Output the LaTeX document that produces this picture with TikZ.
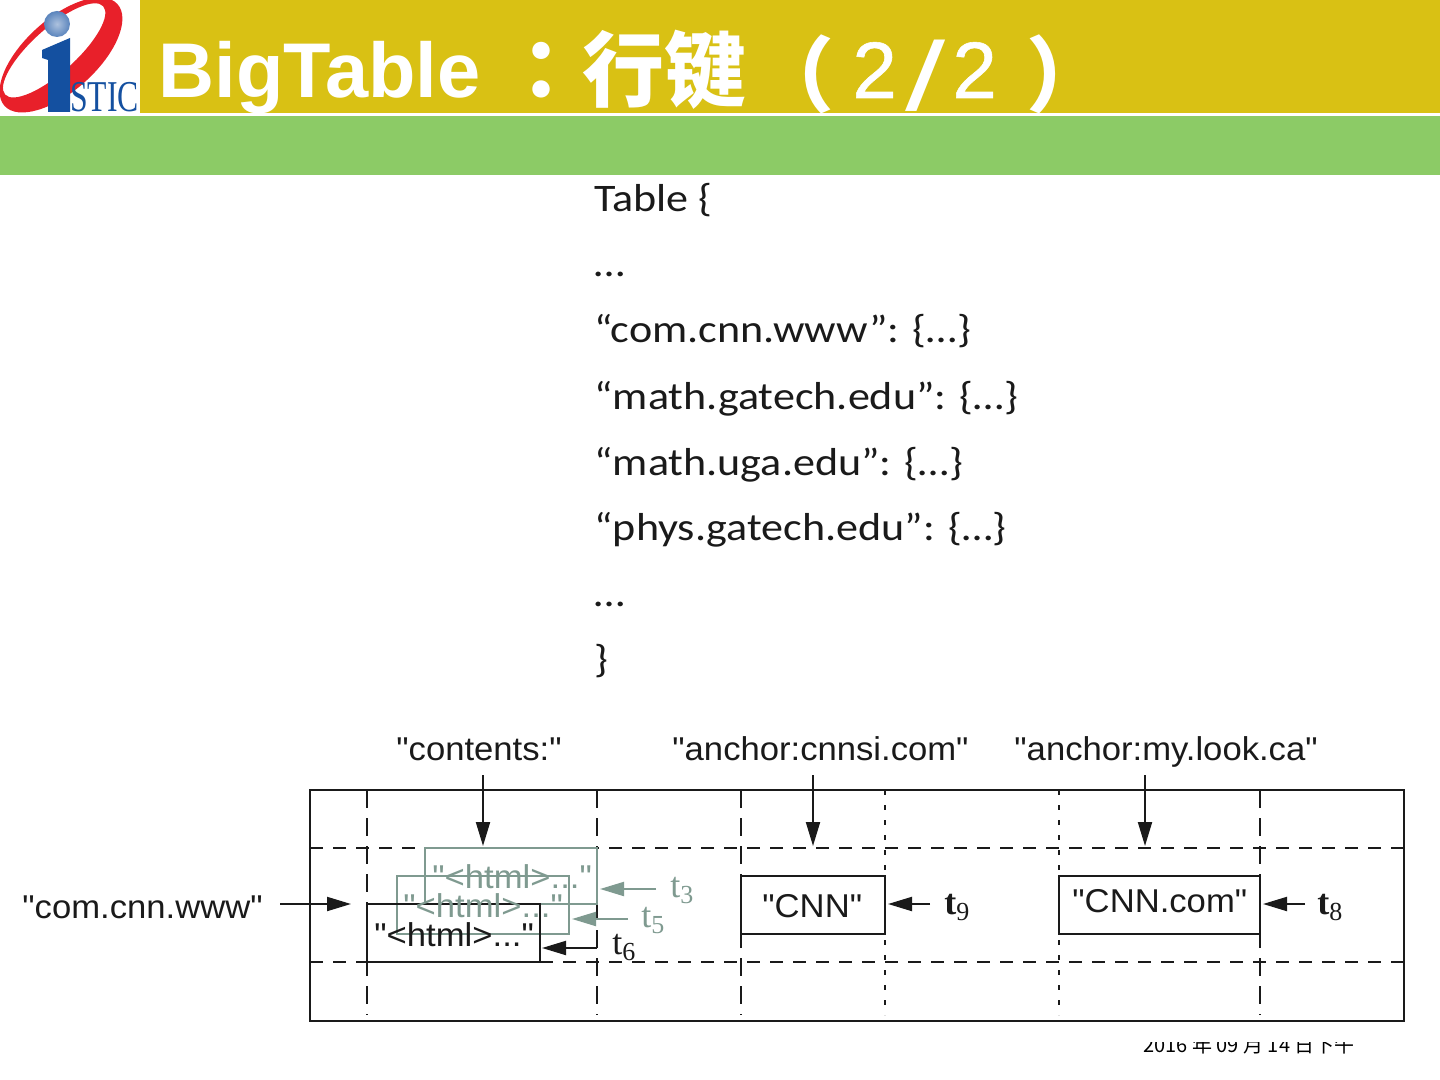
\documentclass[tikz,border=0pt]{standalone}
\usepackage{fontspec}
\setmainfont{Liberation Sans}
\newfontfamily\lblf{Liberation Sans}
\newfontfamily\lblfb[FakeBold=0.7]{Liberation Sans}
\newfontfamily\jpf{Noto Sans CJK JP}
\newfontfamily\bodyf{Carlito}
\newfontfamily\timesf{Liberation Serif}
\usetikzlibrary{arrows.meta}
\definecolor{gold}{HTML}{D9C114}
\definecolor{leaf}{HTML}{8CCB66}
\definecolor{sage}{HTML}{7F9A90}
\definecolor{logored}{HTML}{E8202A}
\definecolor{logoblue}{HTML}{1450A0}
\definecolor{inkd}{HTML}{1A1A1A}
\newcommand{\fixbox}[2]{\hbox to #1{#2\hss}}
\tikzset{
  x=0.5pt,y=-0.5pt,
  gridline/.style={draw=inkd,line width=1.1pt,dash pattern=on 6.5pt off 5pt},
  longdash/.style={draw=inkd,line width=1.1pt,dash pattern=on 9pt off 5pt},
  shortdash/.style={draw=inkd,line width=1.1pt,dash pattern=on 2.5pt off 5pt},
  frameline/.style={draw=inkd,line width=1.1pt},
  cellbox/.style={draw=inkd,line width=1.1pt,fill=none},
  ghostbox/.style={draw=sage,line width=0.9pt},
  bk/.style={draw=inkd,line width=1pt,-{Triangle[length=12pt,width=7pt]}},
  gk/.style={draw=sage,line width=1pt,-{Triangle[length=12pt,width=7pt]}},
  lbl/.style={anchor=base west,inner sep=0pt,xscale=1.05,font=\lblf\fontsize{16.5}{18}\selectfont,text=inkd},
  bodyline/.style={anchor=base west,inner sep=0pt,xscale=1.13,font=\bodyf\fontsize{19.5}{22}\selectfont,text=inkd},
  tim/.style={anchor=base west,inner sep=0pt,font=\timesf\fontsize{18}{20}\selectfont},
}
\newcommand{\tsub}[1]{\raisebox{-3pt}{\fontsize{13}{14}\selectfont\mdseries #1}}
\begin{document}
\begin{tikzpicture}
\useasboundingbox (0,0) rectangle (1440,1080);
\fill[white] (0,0) rectangle (1440,1080);
% bands
\fill[gold] (140,0) rectangle (1440,113);
\fill[leaf] (0,116) rectangle (1440,175);
% logo
\begin{scope}
\clip (0,0) rectangle (140,113);
\fill[logored,even odd rule,rotate around={42:(61,55)}]
  (61,55) ellipse [x radius=76,y radius=36]
  (59,47) ellipse [x radius=66,y radius=22];
\shade[inner color=logoblue!35!white,outer color=logoblue!70!white] (57,24) circle (13);
\fill[logoblue] (42,50) -- (70,38) -- (70,112) -- (48,112) -- (48,60) -- (42,58) -- cycle;
\end{scope}
\node[anchor=base west,inner sep=0pt,text=logoblue,font=\timesf\fontsize{22}{24}\selectfont,xscale=0.72] (stic) at (70,112) {STIC};
% title
\node[anchor=base west,inner sep=0pt,text=white] (title) at (158,98) {%
  \fixbox{171pt}{\fontsize{38.8}{40}\selectfont\lblf\bfseries BigTable}%
  \fixbox{126pt}{\raisebox{-1.5pt}{\fontsize{41}{44}\selectfont\jpf\bfseries ：行键}}%
  \fixbox{50pt}{\raisebox{-4pt}{\fontsize{41}{44}\selectfont\jpf\bfseries （}}%
  \fixbox{26.5pt}{\fontsize{40}{42}\selectfont\lblfb 2}%
  \fixbox{23.5pt}{\fontsize{38}{40}\selectfont\lblf\raisebox{-6.5pt}{\scalebox{1.9}[1.28]{/}}}%
  \fixbox{37pt}{\fontsize{40}{42}\selectfont\lblfb 2}%
  \raisebox{-4pt}{\fontsize{41}{44}\selectfont\jpf\bfseries ）}};
% body
\node[bodyline] (b1) at (594,212) {Table \{};
\node[bodyline] (b2) at (594,277) {…};
\node[bodyline] (b3) at (594,343) {“com.cnn.www”: \{…\}};
\node[bodyline] (b4) at (594,409) {“math.gatech.edu”: \{…\}};
\node[bodyline] (b5) at (594,475) {“math.uga.edu”: \{…\}};
\node[bodyline] (b6) at (594,540) {“phys.gatech.edu”: \{…\}};
\node[bodyline] (b7) at (594,606) {…};
\node[bodyline] (b8) at (594,672) {\}};
% diagram grid
\coordinate (fa) at (310,790); \coordinate (fb) at (1404,1021);
\draw[frameline] (fa) rectangle (fb);
\coordinate (h1a) at (310,848); \coordinate (h1b) at (1404,848);
\coordinate (h2a) at (310,962); \coordinate (h2b) at (1404,962);
\draw[gridline] (h1a) -- (h1b);
\draw[gridline] (h2a) -- (h2b);
\foreach \vx in {367,597,741,1260}{
  \draw[longdash] (\vx,790) -- (\vx,1015);
}
\foreach \vx in {885,1059}{
  \draw[shortdash] (\vx,790) -- (\vx,1015);
}
% boxes
\coordinate (g2a) at (425,848); \coordinate (g2b) at (597,904);
\coordinate (g1a) at (397,876); \coordinate (g1b) at (569,934);
\coordinate (k1a) at (367,904); \coordinate (k1b) at (540,962);
\draw[ghostbox] (g2a) rectangle (g2b);
\draw[ghostbox] (g1a) rectangle (g1b);
\draw[cellbox] (k1a) rectangle (k1b);
\node[lbl,text=sage] (h3) at (432,888) {"<html>..."};
\node[lbl,text=sage] (h5) at (403,917) {"<html>..."};
\node[lbl] (h6) at (374,946) {"<html>..."};
\draw[cellbox] (741,876) rectangle (885,934);
\draw[cellbox] (1059,876) rectangle (1260,934);
\node[lbl] (cnn) at (762,917) {"CNN"};
\node[lbl] (cnncom) at (1072,912) {"CNN.com"};
% headers
\node[lbl] (c1) at (396,760) {"contents:"};
\node[lbl] (c2) at (672,760) {"anchor:cnnsi.com"};
\node[lbl] (c3) at (1014,760) {"anchor:my.look.ca"};
\node[lbl] (row) at (22,918) {"com.cnn.www"};
% arrows
\coordinate (a1s) at (483,775); \coordinate (a1e) at (483,846);
\coordinate (a2s) at (813,775); \coordinate (a2e) at (813,846);
\coordinate (a3s) at (1145,775); \coordinate (a3e) at (1145,846);
\coordinate (a4s) at (280,904); \coordinate (a4e) at (351,904);
\draw[bk] (a1s) -- (a1e);
\draw[bk] (a2s) -- (a2e);
\draw[bk] (a3s) -- (a3e);
\draw[bk] (a4s) -- (a4e);
\coordinate (t3s) at (656,889); \coordinate (t3e) at (600,889);
\coordinate (t5s) at (628,919); \coordinate (t5e) at (572,919);
\coordinate (t6s) at (597,948); \coordinate (t6e) at (542,948);
\coordinate (t9s) at (930,904); \coordinate (t9e) at (888,904);
\coordinate (t8s) at (1305,904); \coordinate (t8e) at (1263,904);
\draw[gk] (t3s) -- (t3e);
\draw[gk] (t5s) -- (t5e);
\draw[bk] (t6s) -- (t6e);
\draw[bk] (t9s) -- (t9e);
\draw[bk] (t8s) -- (t8e);
\node[tim,text=sage] (l3) at (670,897) {t\tsub{3}};
\node[tim,text=sage] (l5) at (641,927) {t\tsub{5}};
\node[tim,text=inkd] (l6) at (612,954) {t\tsub{6}};
\node[tim,text=inkd] (l9) at (944,914) {\bfseries t\tsub{9}};
\node[tim,text=inkd] (l8) at (1317,914) {\bfseries t\tsub{8}};
% date, cut off at the top
\begin{scope}
\clip (1100,1042) rectangle (1400,1060);
\node[anchor=base west,inner sep=0pt,text=black,font=\jpf\fontsize{10}{12}\selectfont] (date) at (1143,1052) {2016 年 09 月 14 日下午};
\end{scope}
\end{tikzpicture}
\end{document}
